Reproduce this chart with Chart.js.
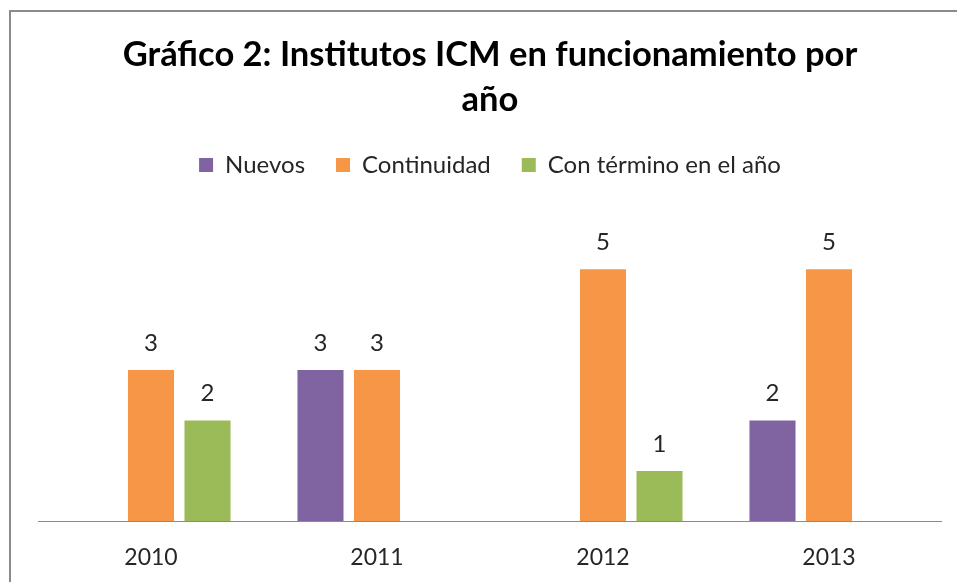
<!DOCTYPE html>
<html><head><meta charset="utf-8">
<script src="https://cdn.jsdelivr.net/npm/chart.js@4"></script>
<style>
html,body{margin:0;padding:0;background:#fff;overflow:hidden;width:957px;height:582px;}
#frame{position:absolute;left:9px;top:10px;width:980px;height:600px;border:2px solid #8a8a8a;box-sizing:border-box;}
#wrap{position:absolute;left:11px;top:12px;width:946px;height:581px;}
</style></head><body>
<div id="frame"></div>
<div id="wrap"><canvas id="c"></canvas></div>
<script>
const categories = ['2010', '2011', '2012', '2013'];
const nuevos = [null, 3, null, 2];
const continuidad = [3, 3, 5, 5];
const conTermino = [2, null, 1, null];
const seriesNames = ['Nuevos', 'Continuidad', 'Con término en el año'];
const seriesColors = ['#8064A2', '#F79646', '#9BBB59'];
const titleLines = ['Gráfico 2: Institutos ICM en funcionamiento por', 'año'];

const FONT = 'Lato, "Open Sans", sans-serif';

const valueLabels = {
  id: 'valueLabels',
  afterDatasetsDraw(chart) {
    const ctx = chart.ctx;
    ctx.save();
    ctx.font = '24px ' + FONT;
    ctx.fillStyle = '#262626';
    ctx.textAlign = 'center';
    ctx.textBaseline = 'middle';
    chart.data.datasets.forEach((ds, i) => {
      const meta = chart.getDatasetMeta(i);
      meta.data.forEach((bar, j) => {
        const v = ds.data[j];
        if (v == null) return;
        ctx.fillText(String(v), bar.x, bar.y - 27);
      });
    });
    ctx.restore();
  }
};

new Chart(document.getElementById('c'), {
  type: 'bar',
  data: {
    labels: categories,
    datasets: [
      { label: seriesNames[0], data: nuevos, backgroundColor: seriesColors[0] },
      { label: seriesNames[1], data: continuidad, backgroundColor: seriesColors[1] },
      { label: seriesNames[2], data: conTermino, backgroundColor: seriesColors[2] }
    ]
  },
  options: {
    responsive: true,
    maintainAspectRatio: false,
    animation: false,
    categoryPercentage: 0.75,
    barPercentage: 0.815,
    layout: { padding: { left: 27, right: 15, top: 0, bottom: 0 } },
    plugins: {
      title: {
        display: true,
        text: titleLines,
        color: '#000',
        font: { family: FONT, size: 34.5, weight: 'bold', lineHeight: '45px' },
        padding: { top: 20, bottom: 0 }
      },
      legend: {
        display: true,
        position: 'top',
        labels: {
          color: '#262626',
          font: { family: FONT, size: 24 },
          boxWidth: 14,
          boxHeight: 14,
          padding: 31
        }
      },
      tooltip: { enabled: false }
    },
    scales: {
      x: {
        grid: { display: false, drawTicks: false },
        border: { display: false },
        ticks: { color: '#262626', font: { family: FONT, size: 23 }, padding: 22 }
      },
      y: {
        display: true,
        beginAtZero: true,
        min: 0,
        max: 6.63,
        border: { display: false },
        ticks: { display: false },
        grid: {
          drawTicks: false,
          lineWidth: 1,
          color: (c) => (c.tick && c.tick.value === 0 ? '#8a8a8a' : 'rgba(0,0,0,0)')
        }
      }
    }
  },
  plugins: [valueLabels]
});
</script>
</body></html>
